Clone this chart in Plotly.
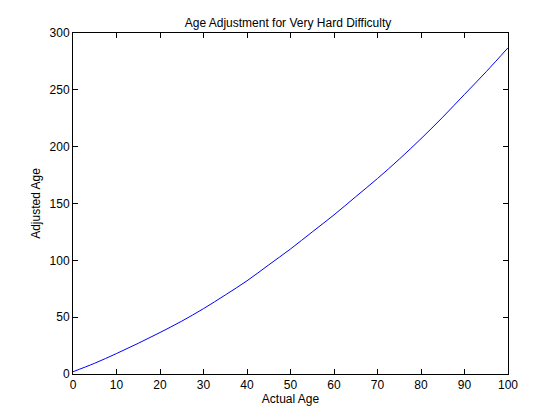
import plotly.graph_objects as go

actual_age = [0, 5, 10, 15, 20, 25, 30, 35, 40, 45, 50,
              55, 60, 65, 70, 75, 80, 85, 90, 95, 100]
adjusted_age = [2, 9.5, 18, 27, 36.5, 46.5, 57.5, 69.5, 82, 96, 110,
                125, 140, 156, 172, 189, 207, 226, 246, 266, 287]

fig = go.Figure()
fig.add_trace(go.Scatter(x=actual_age, y=adjusted_age, mode="lines",
                         line=dict(color="blue", width=1), line_shape="spline"))

axis_style = dict(showgrid=False, zeroline=False, showline=True, mirror="ticks",
                  linecolor="black", linewidth=1, ticks="inside", ticklen=5,
                  tickcolor="black", tickfont=dict(size=12, color="black"))

fig.update_layout(
    width=560, height=420,
    margin=dict(l=65, r=60, t=25, b=54),
    paper_bgcolor="white", plot_bgcolor="white",
    font=dict(family="Liberation Sans, Arial", size=12, color="black"),
    title=dict(text="Age Adjustment for Very Hard Difficulty", x=0.5, xanchor="center",
               y=0.975, font=dict(size=12)),
    showlegend=False,
)
fig.update_xaxes(range=[0, 100], dtick=10,
                 title=dict(text="Actual Age", standoff=2, font=dict(size=12)), **axis_style)
fig.update_yaxes(range=[0, 300], dtick=50,
                 title=dict(text="Adjusted Age", standoff=6, font=dict(size=12)), **axis_style)

fig.write_html("out.html")
